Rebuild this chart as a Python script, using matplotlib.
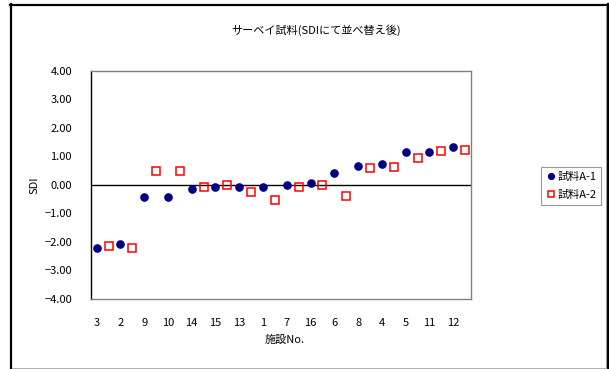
import matplotlib
matplotlib.use("Agg")
import matplotlib.pyplot as plt
from matplotlib.lines import Line2D
import numpy as np

plt.rcParams['font.family'] = ['Noto Sans CJK JP', 'DejaVu Sans']

categories = ['3', '2', '9', '10', '14', '15', '13', '1', '7', '16', '6', '8', '4', '5', '11', '12']
a1 = [-2.20, -2.08, -0.43, -0.41, -0.15, -0.09, -0.09, -0.08, -0.01, 0.06, 0.43, 0.65, 0.72, 1.14, 1.15, 1.33]
a2 = [-2.16, -2.22, 0.49, 0.49, -0.09, -0.02, -0.26, -0.53, -0.09, 0.00, -0.38, 0.59, 0.62, 0.93, 1.19, 1.23]
yticks = [-4, -3, -2, -1, 0, 1, 2, 3, 4]

W, H = 609, 369
fig = plt.figure(figsize=(W / 100, H / 100), dpi=100)

def fx(px):
    return px / W

def fy(py):
    return 1 - py / H

left, right, top, bottom = 90.7, 471.0, 70.7, 299.0
ax = fig.add_axes([fx(left), fy(bottom), fx(right) - fx(left), fy(top) - fy(bottom)])

n = len(categories)
x = np.arange(n)
ax.plot(x + 0.25, a1, linestyle='none', marker='o', markersize=5.2,
        markerfacecolor='#000080', markeredgecolor='#000080', label='試料A-1')
ax.plot(x + 0.75, a2, linestyle='none', marker='s', markersize=5.6,
        markerfacecolor='none', markeredgecolor='#FF0000', markeredgewidth=1.1, label='試料A-2')
ax.axhline(0, color='black', linewidth=1.0, zorder=1)

ax.set_xlim(0, n)
ax.set_ylim(-4, 4)
ax.set_yticks(yticks)
ax.set_yticklabels([f'{v:.2f}'.replace('-', '\u2212') for v in yticks], fontsize=8)
ax.set_xticks(x + 0.25)
ax.set_xticklabels(categories, fontsize=8)
ax.tick_params(axis='y', length=0, pad=13.5)
ax.tick_params(axis='x', length=0, pad=13.5)

for s in ['top', 'right', 'bottom']:
    ax.spines[s].set_color('#808080')
    ax.spines[s].set_linewidth(1.0)
ax.spines['left'].set_color('black')
ax.spines['left'].set_linewidth(1.0)

fig.text(fx(316), fy(30.5), 'サーベイ試料(SDIにて並べ替え後)', ha='center', va='center', fontsize=8)
fig.text(fx(285), fy(340), '施設No.', ha='center', va='center', fontsize=8)
fig.text(fx(34), fy(185), 'SDI', ha='center', va='center', rotation=90, fontsize=8)

leg = fig.legend(loc='upper left', bbox_to_anchor=(fx(541), fy(167.3)), fontsize=8,
                 frameon=True, fancybox=False, handlelength=0.9, handletextpad=0.1,
                 borderpad=0.45, labelspacing=0.7, borderaxespad=0, markerscale=0.8)
leg.get_frame().set_edgecolor('#808080')
leg.get_frame().set_linewidth(0.8)

# chart outer frame
fig.add_artist(Line2D([fx(11), fx(11)], [fy(4.2), fy(369)], color='black', linewidth=1.6))
fig.add_artist(Line2D([fx(10.2), fx(609)], [fy(5), fy(5)], color='black', linewidth=1.6))
fig.add_artist(Line2D([fx(608.3), fx(608.3)], [fy(4), fy(369)], color='black', linewidth=1.6))
fig.add_artist(Line2D([fx(606.3), fx(606.3)], [fy(6), fy(368)], color='#A0A0A0', linewidth=0.8))
fig.add_artist(Line2D([fx(12), fx(606)], [fy(368), fy(368)], color='#B0B0B0', linewidth=0.8))

fig.savefig('out.png', dpi=100)
